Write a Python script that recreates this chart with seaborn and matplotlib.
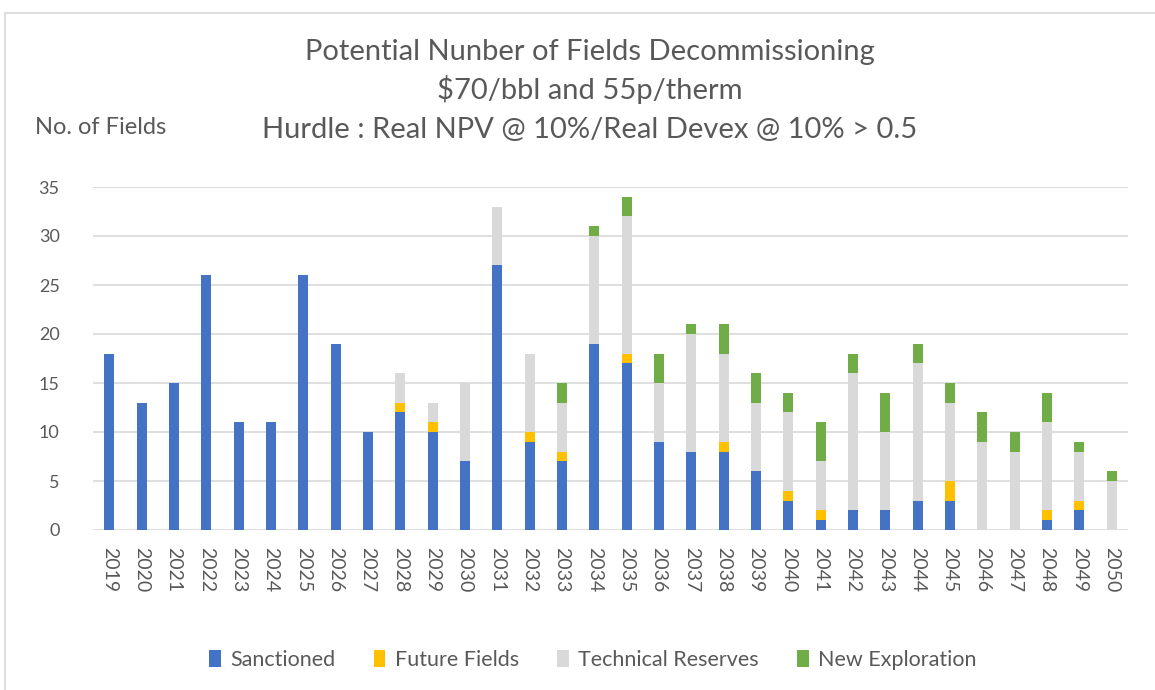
import matplotlib
matplotlib.use("Agg")
import matplotlib.pyplot as plt
import pandas as pd
import seaborn as sns
from matplotlib.patches import Patch
from matplotlib.lines import Line2D

# Decommissioning counts per year, by field category
years = [str(y) for y in range(2019, 2051)]
sanctioned = [18, 13, 15, 26, 11, 11, 26, 19, 10, 12, 10, 7, 27, 9, 7, 19,
              17, 9, 8, 8, 6, 3, 1, 2, 2, 3, 3, 0, 0, 1, 2, 0]
future_fields = [0, 0, 0, 0, 0, 0, 0, 0, 0, 1, 1, 0, 0, 1, 1, 0,
                 1, 0, 0, 1, 0, 1, 1, 0, 0, 0, 2, 0, 0, 1, 1, 0]
technical_reserves = [0, 0, 0, 0, 0, 0, 0, 0, 0, 3, 2, 8, 6, 8, 5, 11,
                      14, 6, 12, 9, 7, 8, 5, 14, 8, 14, 8, 9, 8, 9, 5, 5]
new_exploration = [0, 0, 0, 0, 0, 0, 0, 0, 0, 0, 0, 0, 0, 0, 2, 1,
                   2, 3, 1, 3, 3, 2, 4, 2, 4, 2, 2, 3, 2, 3, 1, 1]

series_names = ["Sanctioned", "Future Fields", "Technical Reserves", "New Exploration"]
colors = ["#4472C4", "#FFC000", "#D9D9D9", "#70AD47"]
text_color = "#595959"

df = pd.DataFrame({
    "year": years,
    "Sanctioned": sanctioned,
    "Future Fields": future_fields,
    "Technical Reserves": technical_reserves,
    "New Exploration": new_exploration,
})
# cumulative stack heights, drawn from the tallest layer down
cum = df[series_names].cumsum(axis=1)

sns.set_theme(style="white")
plt.rcParams["font.family"] = ["Lato", "DejaVu Sans"]

W, H = 1155, 690
fig = plt.figure(figsize=(W / 100, H / 100), dpi=100)
ax = fig.add_axes([93 / W, 1 - 530 / H, (1128 - 93) / W, (530 - 187) / H])

for name, color in reversed(list(zip(series_names, colors))):
    sns.barplot(x=df["year"], y=cum[name], color=color, width=0.31,
                order=years, ax=ax, linewidth=0, saturation=1, errorbar=None)

ax.set_xlim(-0.5, len(years) - 0.5)
ax.set_ylim(0, 35)
ax.set_yticks(range(0, 36, 5))
ax.set_xlabel("")
ax.set_ylabel("")
ax.yaxis.grid(True, color="#D9D9D9", linewidth=1.2)
ax.xaxis.grid(False)
ax.set_axisbelow(True)
for s in ax.spines.values():
    s.set_visible(False)
ax.tick_params(axis="x", length=0, pad=12, labelsize=14, labelcolor=text_color,
               labelrotation=-90)
ax.tick_params(axis="y", length=0, pad=24, labelsize=13, labelcolor=text_color)

# titles
cx = 590 / W
title_size = 21
fig.text(cx, 1 - 52 / H, "Potential Nunber of Fields Decommissioning",
         ha="center", va="center", fontsize=title_size, color=text_color)
fig.text(cx, 1 - 90 / H, "$70/bbl and 55p/therm", ha="center", va="center",
         fontsize=title_size, color=text_color)
fig.text(cx, 1 - 130 / H, "Hurdle : Real NPV @ 10%/Real Devex @ 10% > 0.5",
         ha="center", va="center", fontsize=title_size, color=text_color)
fig.text(35 / W, 1 - 127 / H, "No. of Fields", ha="left", va="center",
         fontsize=17, color=text_color)

# legend
handles = [Patch(facecolor=c, edgecolor="none") for c in colors]
fig.legend(handles, series_names, loc="center", ncol=4, frameon=False,
           bbox_to_anchor=(593 / W, 1 - 660 / H), fontsize=15.5,
           handlelength=0.55, handleheight=0.8, handletextpad=0.45,
           columnspacing=1.75, labelcolor=text_color)

# chart frame
fig.add_artist(Line2D([5 / W, 1], [1 - 13 / H, 1 - 13 / H], color="#D9D9D9",
                      linewidth=1.2, transform=fig.transFigure))
fig.add_artist(Line2D([5 / W, 5 / W], [0, 1 - 13 / H], color="#D9D9D9",
                      linewidth=1.2, transform=fig.transFigure))

fig.savefig("out.png", dpi=100)
